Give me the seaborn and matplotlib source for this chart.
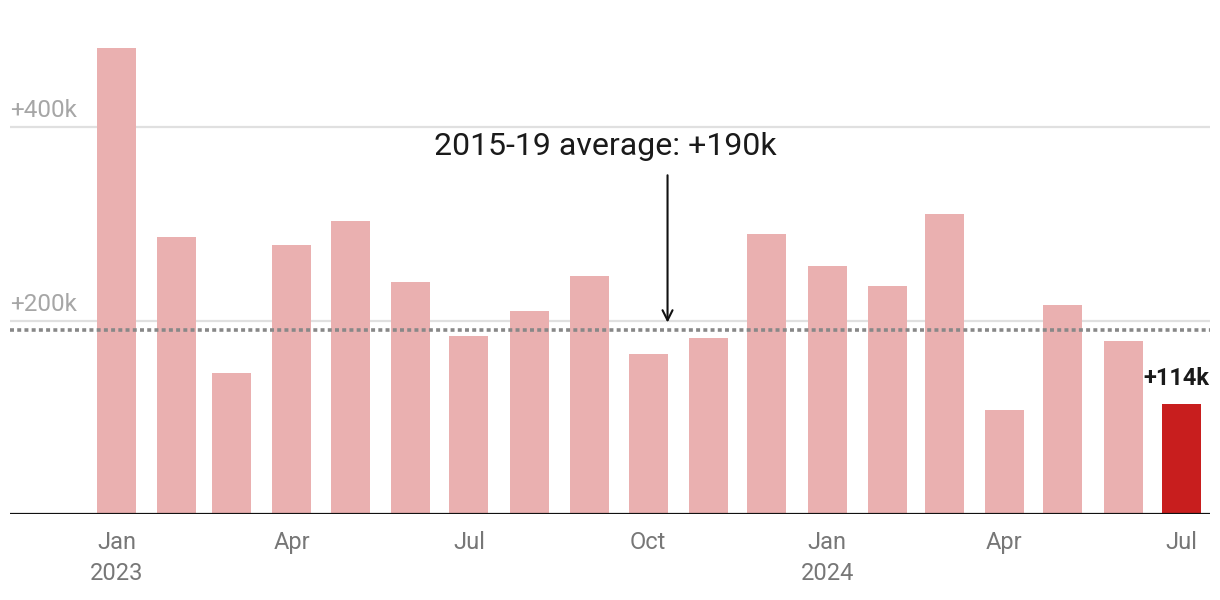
import matplotlib
matplotlib.use("Agg")
import matplotlib.pyplot as plt
import seaborn as sns
import pandas as pd

# monthly job gains, thousands (Jan 2023 - Jul 2024)
months = pd.date_range("2023-01-01", "2024-07-01", freq="MS")
gains = [482, 286, 146, 278, 303, 240, 184, 210, 246, 165, 182, 289,
         256, 236, 310, 108, 216, 179, 114]
avg_2015_19 = 190
tick_months = ["2023-01-01", "2023-04-01", "2023-07-01", "2023-10-01",
               "2024-01-01", "2024-04-01", "2024-07-01"]
tick_labels = ["Jan\n2023", "Apr", "Jul", "Oct", "Jan\n2024", "Apr", "Jul"]
y_ticks = [200, 400]
y_labels = ["+200k", "+400k"]

start = months[0]
df = pd.DataFrame({
    "day": (months - start).days,
    "gain": gains,
    "kind": ["past"] * (len(gains) - 1) + ["latest"],
})

sns.set_theme(style="white")
plt.rcParams["font.family"] = ["Roboto", "DejaVu Sans"]

fig = plt.figure(figsize=(12.2, 6), dpi=100)
ax = fig.add_axes([10 / 1220, 86 / 600, 1200 / 1220, (600 - 86 - 30.25) / 600])

sns.barplot(data=df, x="day", y="gain", hue="kind", native_scale=True,
            palette={"past": "#eab0b0", "latest": "#c81e1e"},
            dodge=False, width=0.715, saturation=1, legend=False,
            linewidth=0, ax=ax, zorder=2)

ax.set_xlim(-54.7, 561.6)
ax.set_ylim(0, 500)

# gridlines and baseline
for yt in y_ticks:
    ax.axhline(yt, color="#e0e0e0", lw=1.6, zorder=1)
ax.axhline(0, color="#111111", lw=1.6, zorder=3)
ax.axhline(avg_2015_19, color="#888888", lw=2.6, linestyle=(0, (1.1, 0.9)),
           dash_capstyle="butt", zorder=4)

for yt, lab in zip(y_ticks, y_labels):
    ax.annotate(lab, xy=(0, yt), xycoords=("axes fraction", "data"),
                xytext=(0, 3.5), textcoords="offset points",
                ha="left", va="bottom", fontsize=17.5, color="#a6a6a6")

tick_days = [(pd.Timestamp(t) - start).days for t in tick_months]
ax.set_xticks(tick_days)
ax.set_xticklabels(tick_labels, fontsize=17, color="#777777", linespacing=1.45)
ax.tick_params(axis="x", length=0, pad=12)
ax.set_yticks([])
ax.set_xlabel("")
ax.set_ylabel("")
for s in ax.spines.values():
    s.set_visible(False)

# average annotation
arrow_day = (pd.Timestamp("2023-10-11") - start).days
text_day = (pd.Timestamp("2023-09-09") - start).days
ax.annotate("", xy=(arrow_day, 195), xytext=(arrow_day, 353),
            arrowprops=dict(arrowstyle="->", color="#111111", lw=1.5,
                            mutation_scale=18))
ax.text(text_day, 380, f"2015-19 average: +{avg_2015_19}k", ha="center",
        va="center", fontsize=23, color="#1a1a1a")

# latest value label
last_day = df["day"].iloc[-1]
ax.annotate(f"+{gains[-1]}k", xy=(last_day, gains[-1]),
            xytext=(-4, 10), textcoords="offset points", ha="center",
            va="bottom", fontsize=17, fontweight="bold", color="#1a1a1a")

plt.savefig("out.png", dpi=100)
plt.close()
